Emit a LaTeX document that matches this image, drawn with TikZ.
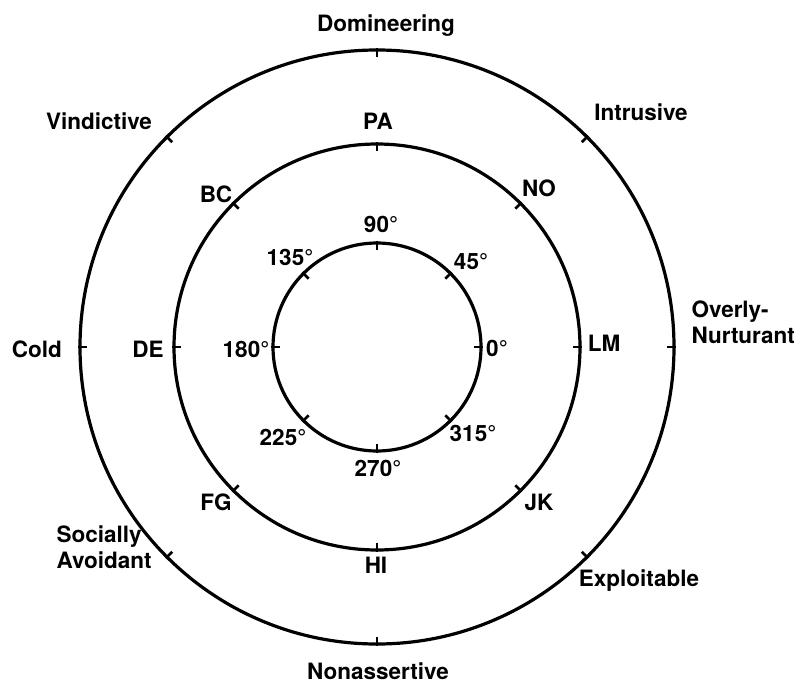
\documentclass[tikz,border=0pt]{standalone}
\usepackage{fontspec}
\setmainfont{TeX Gyre Heros}
\usetikzlibrary{calc}
\tikzset{
  every picture/.style={line width=3.2pt},
  ring/.style={circle, draw, minimum size=#1, inner sep=0pt},
  tickmark/.style={line width=2.8pt},
  lbl/.style={font=\bfseries\fontsize{22.5}{26}\selectfont, inner sep=0pt, text height=16pt, text depth=0pt},
  lbltwo/.style={font=\bfseries\fontsize{22.5}{26}\selectfont, inner sep=0pt, align=left, anchor=base west},
}

\begin{document}
\begin{tikzpicture}[x=1pt, y=1pt]
  \useasboundingbox (-377,-336) rectangle (422,347);
  \coordinate (c) at (0,0);
  % three rings
  \node[ring=594pt] (outer) at (c) {};
  \node[ring=406pt] (middle) at (c) {};
  \node[ring=208pt] (inner) at (c) {};
  % inward ticks every 45 degrees
  \foreach \r in {outer, middle, inner} {
    \foreach \a in {0,45,...,315} {
      \draw[tickmark] (\r.\a) -- ($(\r.\a)!9pt!(c)$);
    }
  }
  % outer labels
  \foreach \name/\x/\y/\i in {Domineering/9/323/dom, Intrusive/264/235/intr, Exploitable/262/-231/expl,
      Nonassertive/1/-324/nona, Cold/-340/-2/cold, Vindictive/-278/226/vind} {
    \node[lbl] (\i) at (\x,\y) {\name};
  }
  \node[lbltwo] (nurt) at (313,4) {Overly-\\Nurturant};
  \node[lbltwo] (avoid) at (-322,-221) {Socially\\Avoidant};
  % middle labels
  \foreach \name/\x/\y in {PA/1/226, NO/162/159, LM/227/4, JK/162/-155,
      HI/-1/-218, FG/-161/-155, DE/-229/-2, BC/-161/153} {
    \node[lbl] (\name) at (\x,\y) {\name};
  }
  % inner labels
  \foreach \d/\x/\y in {90/4/123, 45/94/86, 0/120/-1, 315/96/-86,
      270/1/-121, 225/-94/-90, 180/-131/-2, 135/-87/90} {
    \node[lbl] (deg\d) at (\x,\y) {\d°};
  }
\end{tikzpicture}
\end{document}
